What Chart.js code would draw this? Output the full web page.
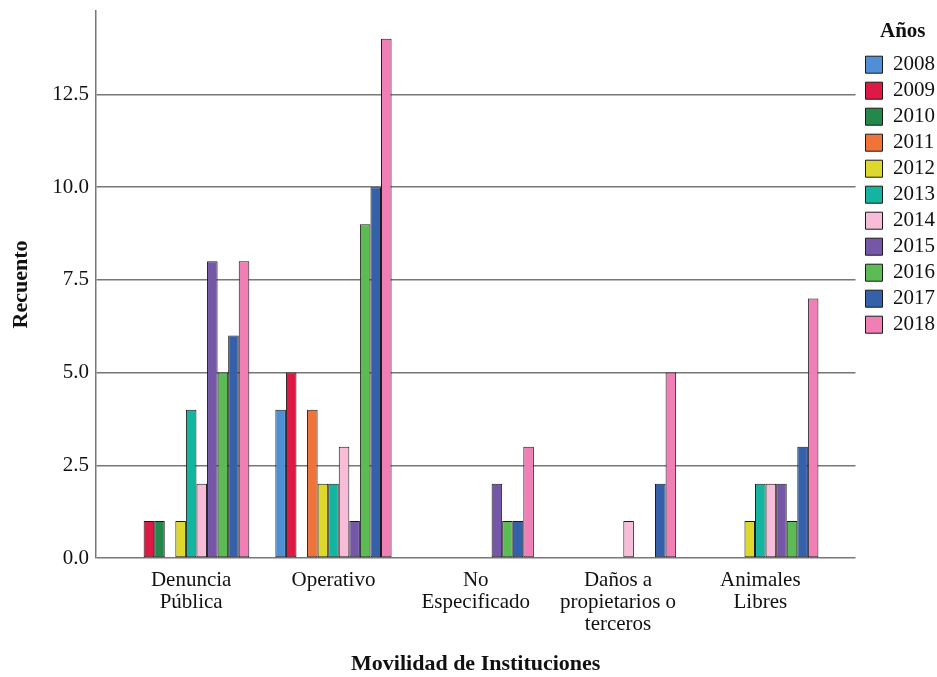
<!DOCTYPE html>
<html>
<head>
<meta charset="utf-8">
<script src="https://cdn.jsdelivr.net/npm/chart.js@4"></script>
<style>
  html, body { margin: 0; padding: 0; background: #fff; }
  #wrap { width: 937px; height: 677px; }
</style>
</head>
<body>
<div id="wrap"><canvas id="myChart"></canvas></div>
<script>
// categorias del eje x (lineas de la etiqueta)
const categorias = [
    ['Denuncia', 'Pública'],
    ['Operativo'],
    ['No', 'Especificado'],
    ['Daños a', 'propietarios o', 'terceros'],
    ['Animales', 'Libres']
];
const anios = ['2008', '2009', '2010', '2011', '2012', '2013', '2014', '2015', '2016', '2017', '2018'];
const colores = ['#4f8fd6', '#dc1a44', '#23884a', '#f0733a', '#ded72e', '#14b5a0',
                 '#f7bcd8', '#7557a8', '#5dbb55', '#3561ab', '#f07fb5'];

// recuento por año: Denuncia, Operativo, No Esp., Daños, Animales
const v2008 = [0, 4, 0, 0, 0];
const v2009 = [1, 5, 0, 0, 0];
const v2010 = [1, 0, 0, 0, 0];
const v2011 = [0, 4, 0, 0, 0];
const v2012 = [1, 2, 0, 0, 1];
const v2013 = [4, 2, 0, 0, 2];
const v2014 = [2, 3, 0, 1, 2];
const v2015 = [8, 1, 2, 0, 2];
const v2016 = [5, 9, 1, 0, 1];
const v2017 = [6, 10, 1, 2, 3];
const v2018 = [8, 14, 3, 5, 7];
const valores = [v2008, v2009, v2010, v2011, v2012, v2013, v2014, v2015, v2016, v2017, v2018];

const fuente = 'Liberation Serif';

const datasets = anios.map((a, k) => ({
    label: a,
    data: valores[k].map((v, i) => ({ x: i, y: v || null })), // 0 = sin barra
    backgroundColor: colores[k],
    borderColor: '#1a1a1a',
    borderWidth: 1,
    borderSkipped: false,
    categoryPercentage: 0.817,
    barPercentage: 1
}));

// mover la leyenda un poco a la derecha (como en el original)
const moverLeyenda = {
    id: 'moverLeyenda',
    afterLayout(chart) {
        const l = chart.legend;
        if (l) { l.left += 5; l.right += 5; }
    }
};

const ctx = document.getElementById('myChart').getContext('2d');
const myChart = new Chart(ctx, {
    type: 'bar',
    data: { datasets: datasets },
    plugins: [moverLeyenda],
    options: {
        responsive: true,
        maintainAspectRatio: false,
        animation: false,
        layout: { padding: { top: 11, left: 8, right: -3, bottom: 0 } },
        plugins: {
            tooltip: { enabled: false },
            legend: {
                position: 'right',
                align: 'start',
                title: {
                    display: true,
                    text: 'Años',
                    color: '#111',
                    font: { family: fuente, size: 21, weight: 'bold' },
                    padding: { top: 10, bottom: 3 }
                },
                labels: {
                    color: '#111',
                    font: { family: fuente, size: 21 },
                    boxWidth: 17,
                    boxHeight: 17,
                    padding: 5
                }
            }
        },
        scales: {
            x: {
                type: 'linear',
                offset: false,
                min: -0.669,
                max: 4.669,
                afterBuildTicks: (s) => { s.ticks = categorias.map((c, i) => ({ value: i })); },
                afterFit: (s) => { s.height = 119; },
                grid: { display: false },
                border: { display: false },
                ticks: {
                    autoSkip: false,
                    maxRotation: 0,
                    padding: 3,
                    color: '#111',
                    font: { family: fuente, size: 21, lineHeight: 1.05 },
                    callback: (v) => categorias[v]
                },
                title: {
                    display: true,
                    text: 'Movilidad de Instituciones',
                    color: '#111',
                    font: { family: fuente, size: 22, weight: 'bold' },
                    padding: { top: 0, bottom: -1 }
                }
            },
            y: {
                min: 0,
                max: 14.75,
                afterFit: (s) => { s.width = 88; s.paddingTop = 0; },
                grid: { color: '#777', lineWidth: 1.5, drawTicks: false },
                border: { display: true, color: '#777', width: 1.5 },
                ticks: {
                    stepSize: 2.5,
                    includeBounds: false,
                    padding: 7,
                    color: '#111',
                    font: { family: fuente, size: 21 },
                    callback: (v) => v.toFixed(1)
                },
                title: {
                    display: true,
                    text: 'Recuento',
                    color: '#111',
                    font: { family: fuente, size: 22, weight: 'bold' },
                    padding: { top: 0, bottom: 0 }
                }
            }
        }
    }
});
</script>
</body>
</html>
